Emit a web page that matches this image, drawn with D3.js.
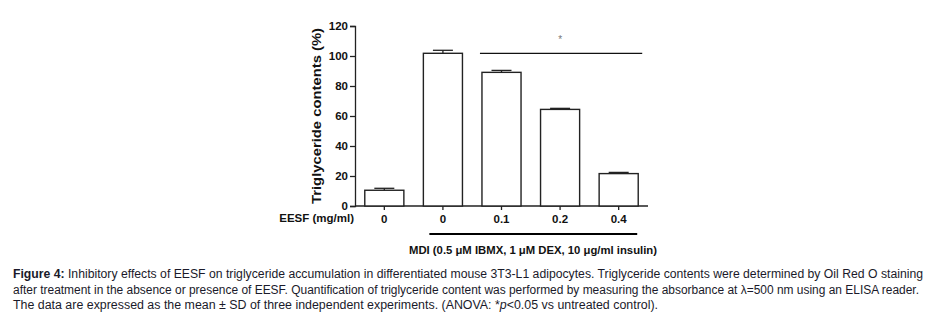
<!DOCTYPE html>
<html>
<head>
<meta charset="utf-8">
<script src="https://cdn.jsdelivr.net/npm/d3@7"></script>
<style>
  body { margin: 0; background: #fff; }
  svg { display: block; font-family: "Liberation Sans", Arial, sans-serif; }
</style>
</head>
<body>
<svg id="chart" width="939" height="326"></svg>
<script>
// chart data
var doses = ["0", "0", "0.1", "0.2", "0.4"];
var means = [10.5, 101.8, 89.1, 64.4, 21.6];
var sds = [1.3, 2.0, 1.3, 0.7, 0.8];
var yTicks = [0, 20, 40, 60, 80, 100, 120];
var captionLines = [
  ["Figure 4:", " Inhibitory effects of EESF on triglyceride accumulation in differentiated mouse 3T3-L1 adipocytes. Triglyceride contents were determined by Oil Red O staining"],
  ["", "after treatment in the absence or presence of EESF. Quantification of triglyceride content was performed by measuring the absorbance at \u03bb=500 nm using an ELISA reader."],
  ["", "The data are expressed as the mean \u00b1 SD of three independent experiments. (ANOVA: *p<0.05 vs untreated control)."]
];

var svg = d3.select("#chart");

// scales
var x = d3.scaleBand()
  .domain(d3.range(doses.length))
  .range([355, 648])
  .paddingInner(0.333)
  .paddingOuter(0.167);

var y = d3.scaleLinear()
  .domain([0, 120])
  .range([206, 26]);

// y axis
var yAxis = svg.append("g")
  .attr("transform", "translate(355,0)")
  .call(d3.axisLeft(y).tickValues(yTicks).tickSize(5).tickPadding(2));
yAxis.select(".domain").attr("stroke", "#222").attr("stroke-width", 1.3);
yAxis.selectAll(".tick line").attr("stroke", "#222").attr("stroke-width", 1.3);
yAxis.selectAll(".tick text")
  .attr("font-size", 11.5)
  .attr("font-weight", "bold")
  .attr("fill", "#111")
  .attr("font-family", "Liberation Sans, Arial, sans-serif");

// x axis baseline with ticks at bar centres
var xAxis = svg.append("g")
  .attr("transform", "translate(0,206)")
  .call(d3.axisBottom(x).tickSize(4).tickSizeOuter(0).tickFormat(function (i) { return doses[i]; }).tickPadding(3));
xAxis.select(".domain").attr("stroke", "#222").attr("stroke-width", 1.3)
  .attr("d", "M355,0H648");
xAxis.selectAll(".tick line").attr("stroke", "#222").attr("stroke-width", 1.3);
xAxis.selectAll(".tick text")
  .attr("font-size", 11.5)
  .attr("font-weight", "bold")
  .attr("fill", "#111")
  .attr("dy", "0.85em")
  .attr("font-family", "Liberation Sans, Arial, sans-serif");

svg.append("text")
  .attr("x", 354)
  .attr("y", 222)
  .attr("text-anchor", "end")
  .attr("font-size", 11.5)
  .attr("font-weight", "bold")
  .attr("fill", "#111")
  .text("EESF (mg/ml)");

// bars
svg.selectAll("rect.bar")
  .data(means)
  .enter()
  .append("rect")
  .attr("class", "bar")
  .attr("x", function (d, i) { return x(i); })
  .attr("y", function (d) { return y(d); })
  .attr("width", x.bandwidth())
  .attr("height", function (d) { return y(0) - y(d); })
  .attr("fill", "#fff")
  .attr("stroke", "#222")
  .attr("stroke-width", 1.4);

// error bars (upper only)
var err = svg.append("g").attr("stroke", "#222").attr("stroke-width", 1.3);
means.forEach(function (m, i) {
  var cx = x(i) + x.bandwidth() / 2;
  err.append("line")
    .attr("x1", cx).attr("x2", cx)
    .attr("y1", y(m)).attr("y2", y(m + sds[i]));
  err.append("line")
    .attr("x1", cx - 10).attr("x2", cx + 10)
    .attr("y1", y(m + sds[i])).attr("y2", y(m + sds[i]));
});

// significance line and asterisk over the treated groups
svg.append("line")
  .attr("x1", x(2) - 2)
  .attr("x2", x(4) + x.bandwidth() + 4)
  .attr("y1", y(means[1]))
  .attr("y2", y(means[1]))
  .attr("stroke", "#111")
  .attr("stroke-width", 1.3);
svg.append("text")
  .attr("x", (x(2) + x(4) + x.bandwidth()) / 2)
  .attr("y", y(112) + 5)
  .attr("text-anchor", "middle")
  .attr("font-size", 10)
  .attr("fill", "#777")
  .text("*");

// y axis title
svg.append("text")
  .attr("transform", "translate(321," + y(60) + ") rotate(-90)")
  .attr("text-anchor", "middle")
  .attr("font-size", 13.5)
  .attr("font-weight", "bold")
  .attr("fill", "#111")
  .attr("textLength", 176)
  .attr("lengthAdjust", "spacingAndGlyphs")
  .text("Triglyceride contents (%)");

// MDI bracket under the treated groups
var bx1 = x(1) + 6;
var bx2 = x(4) + x.bandwidth() - 1;
svg.append("rect")
  .attr("x", bx1)
  .attr("y", 233)
  .attr("width", bx2 - bx1)
  .attr("height", 2)
  .attr("fill", "#000");
svg.append("text")
  .attr("x", 533)
  .attr("y", 254)
  .attr("text-anchor", "middle")
  .attr("font-size", 11)
  .attr("font-weight", "bold")
  .attr("fill", "#111")
  .attr("textLength", 248)
  .attr("lengthAdjust", "spacingAndGlyphs")
  .text("MDI (0.5 \u03bcM IBMX, 1 \u03bcM DEX, 10 \u03bcg/ml insulin)");

// caption
var capWidths = [910, 906, 645];
var cap = svg.append("g").attr("font-size", 12).attr("fill", "#1a1a2a");
captionLines.forEach(function (line, i) {
  var t = cap.append("text")
    .attr("x", 13)
    .attr("y", 278 + i * 15.5)
    .attr("textLength", capWidths[i])
    .attr("lengthAdjust", "spacingAndGlyphs");
  if (line[0]) t.append("tspan").attr("font-weight", "bold").text(line[0]);
  if (i === 2) {
    var parts = line[1].split("*p");
    t.append("tspan").text(parts[0] + "*");
    t.append("tspan").attr("font-style", "italic").text("p");
    t.append("tspan").text(parts[1]);
  } else {
    t.append("tspan").text(line[1]);
  }
});
</script>
</body>
</html>
